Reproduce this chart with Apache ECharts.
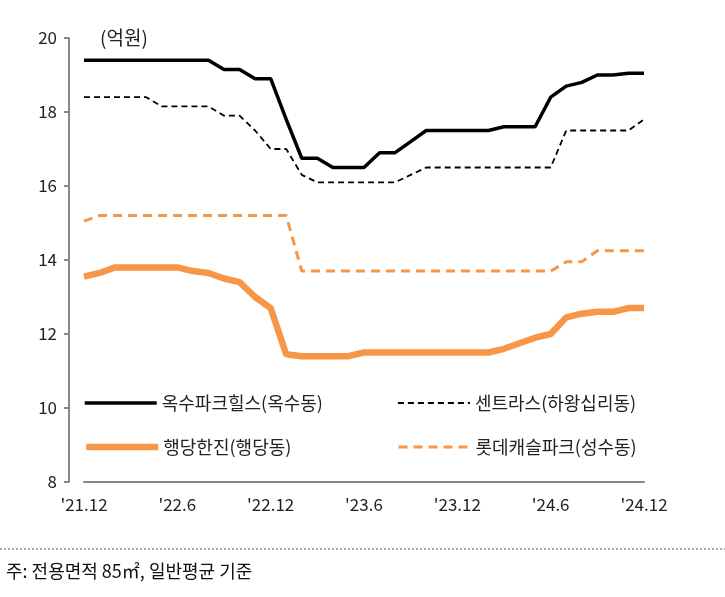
<!DOCTYPE html>
<html>
<head>
<meta charset="utf-8">
<script src="https://cdn.jsdelivr.net/npm/echarts@6/dist/echarts.min.js"></script>
<style>
  html, body { margin: 0; padding: 0; background: #fff; }
  #chart { width: 725px; height: 597px; }
</style>
</head>
<body>
<div id="chart"></div>
<script>
const months = [
  "'21.12", "'22.1", "'22.2", "'22.3", "'22.4", "'22.5", "'22.6", "'22.7", "'22.8", "'22.9", "'22.10", "'22.11",
  "'22.12", "'23.1", "'23.2", "'23.3", "'23.4", "'23.5", "'23.6", "'23.7", "'23.8", "'23.9", "'23.10", "'23.11",
  "'23.12", "'24.1", "'24.2", "'24.3", "'24.4", "'24.5", "'24.6", "'24.7", "'24.8", "'24.9", "'24.10", "'24.11",
  "'24.12"
];

const oksuPark = [
  19.4, 19.4, 19.4, 19.4, 19.4, 19.4, 19.4, 19.4, 19.4, 19.15, 19.15, 18.9, 18.9, 17.8, 16.75, 16.75, 16.5, 16.5,
  16.5, 16.9, 16.9, 17.2, 17.5, 17.5, 17.5, 17.5, 17.5, 17.6, 17.6, 17.6, 18.4, 18.7, 18.8, 19.0, 19.0, 19.05, 19.05
];
const centras = [
  18.4, 18.4, 18.4, 18.4, 18.4, 18.15, 18.15, 18.15, 18.15, 17.9, 17.9, 17.5, 17.0, 17.0, 16.3, 16.1, 16.1, 16.1,
  16.1, 16.1, 16.1, 16.3, 16.5, 16.5, 16.5, 16.5, 16.5, 16.5, 16.5, 16.5, 16.5, 17.5, 17.5, 17.5, 17.5, 17.5, 17.8
];
const hanjin = [
  13.55, 13.65, 13.8, 13.8, 13.8, 13.8, 13.8, 13.7, 13.65, 13.5, 13.4, 13.0, 12.7, 11.45, 11.4, 11.4, 11.4, 11.4,
  11.5, 11.5, 11.5, 11.5, 11.5, 11.5, 11.5, 11.5, 11.5, 11.6, 11.75, 11.9, 12.0, 12.45, 12.55, 12.6, 12.6, 12.7, 12.7
];
const lotteCastle = [
  15.05, 15.2, 15.2, 15.2, 15.2, 15.2, 15.2, 15.2, 15.2, 15.2, 15.2, 15.2, 15.2, 15.2, 13.7, 13.7, 13.7, 13.7,
  13.7, 13.7, 13.7, 13.7, 13.7, 13.7, 13.7, 13.7, 13.7, 13.7, 13.7, 13.7, 13.7, 13.95, 13.95, 14.25, 14.25, 14.25, 14.25
];

const ORANGE = '#f79646';
const FONT = "'Noto Sans CJK KR', sans-serif";

const chart = echarts.init(document.getElementById('chart'));

const legendAt = (name, left, top, lineStyle) => ({
  data: [name],
  left,
  top,
  itemWidth: 72,
  itemHeight: 8,
  itemStyle: { opacity: 0 },
  lineStyle,
  textStyle: { fontSize: 18, color: '#222', fontFamily: FONT },
});

chart.setOption({
  animation: false,
  textStyle: { fontFamily: FONT },
  grid: { left: 84, right: 81, top: 38, bottom: 115 },
  legend: [
    legendAt('옥수파크힐스(옥수동)', 78, 389, { width: 3.5 }),
    legendAt('센트라스(하왕십리동)', 392, 389, { width: 1.8 }),
    legendAt('행당한진(행당동)', 78, 433, { width: 6.5 }),
    legendAt('롯데캐슬파크(성수동)', 392, 433, { width: 3 }),
  ],
  xAxis: {
    type: 'category',
    data: months,
    boundaryGap: false,
    axisLine: { lineStyle: { color: '#888', width: 2 } },
    axisTick: { show: false },
    axisLabel: { interval: 5, fontSize: 17, color: '#222', margin: 14 },
  },
  yAxis: {
    type: 'value',
    min: 8,
    max: 20,
    interval: 2,
    offset: 15,
    axisLine: { show: true, lineStyle: { color: '#888', width: 2 } },
    axisTick: { show: true, length: 5, lineStyle: { color: '#888', width: 2 } },
    axisLabel: { fontSize: 17, color: '#222', margin: 12 },
    splitLine: { show: false },
  },
  series: [
    {
      name: '옥수파크힐스(옥수동)', type: 'line', data: oksuPark, symbol: 'none',
      lineStyle: { color: '#000', width: 3.5 }, itemStyle: { color: '#000' },
    },
    {
      name: '센트라스(하왕십리동)', type: 'line', data: centras, symbol: 'none',
      lineStyle: { color: '#000', width: 1.8, type: [6, 4] }, itemStyle: { color: '#000' },
    },
    {
      name: '행당한진(행당동)', type: 'line', data: hanjin, symbol: 'none',
      lineStyle: { color: ORANGE, width: 6.5 }, itemStyle: { color: ORANGE },
    },
    {
      name: '롯데캐슬파크(성수동)', type: 'line', data: lotteCastle, symbol: 'none',
      lineStyle: { color: ORANGE, width: 3, type: [9, 6] }, itemStyle: { color: ORANGE },
    },
  ],
  graphic: [
    { type: 'text', left: 100, top: 28, style: { text: '(억원)', fontSize: 19, fill: '#222', fontFamily: FONT } },
    { type: 'line', shape: { x1: 0, y1: 549, x2: 725, y2: 549 }, style: { stroke: '#555', lineWidth: 1, lineDash: [2, 2] } },
    { type: 'text', left: 6, top: 562, style: { text: '주: 전용면적 85㎡, 일반평균 기준', fontSize: 18, fill: '#111', fontFamily: FONT } },
  ],
});
</script>
</body>
</html>
